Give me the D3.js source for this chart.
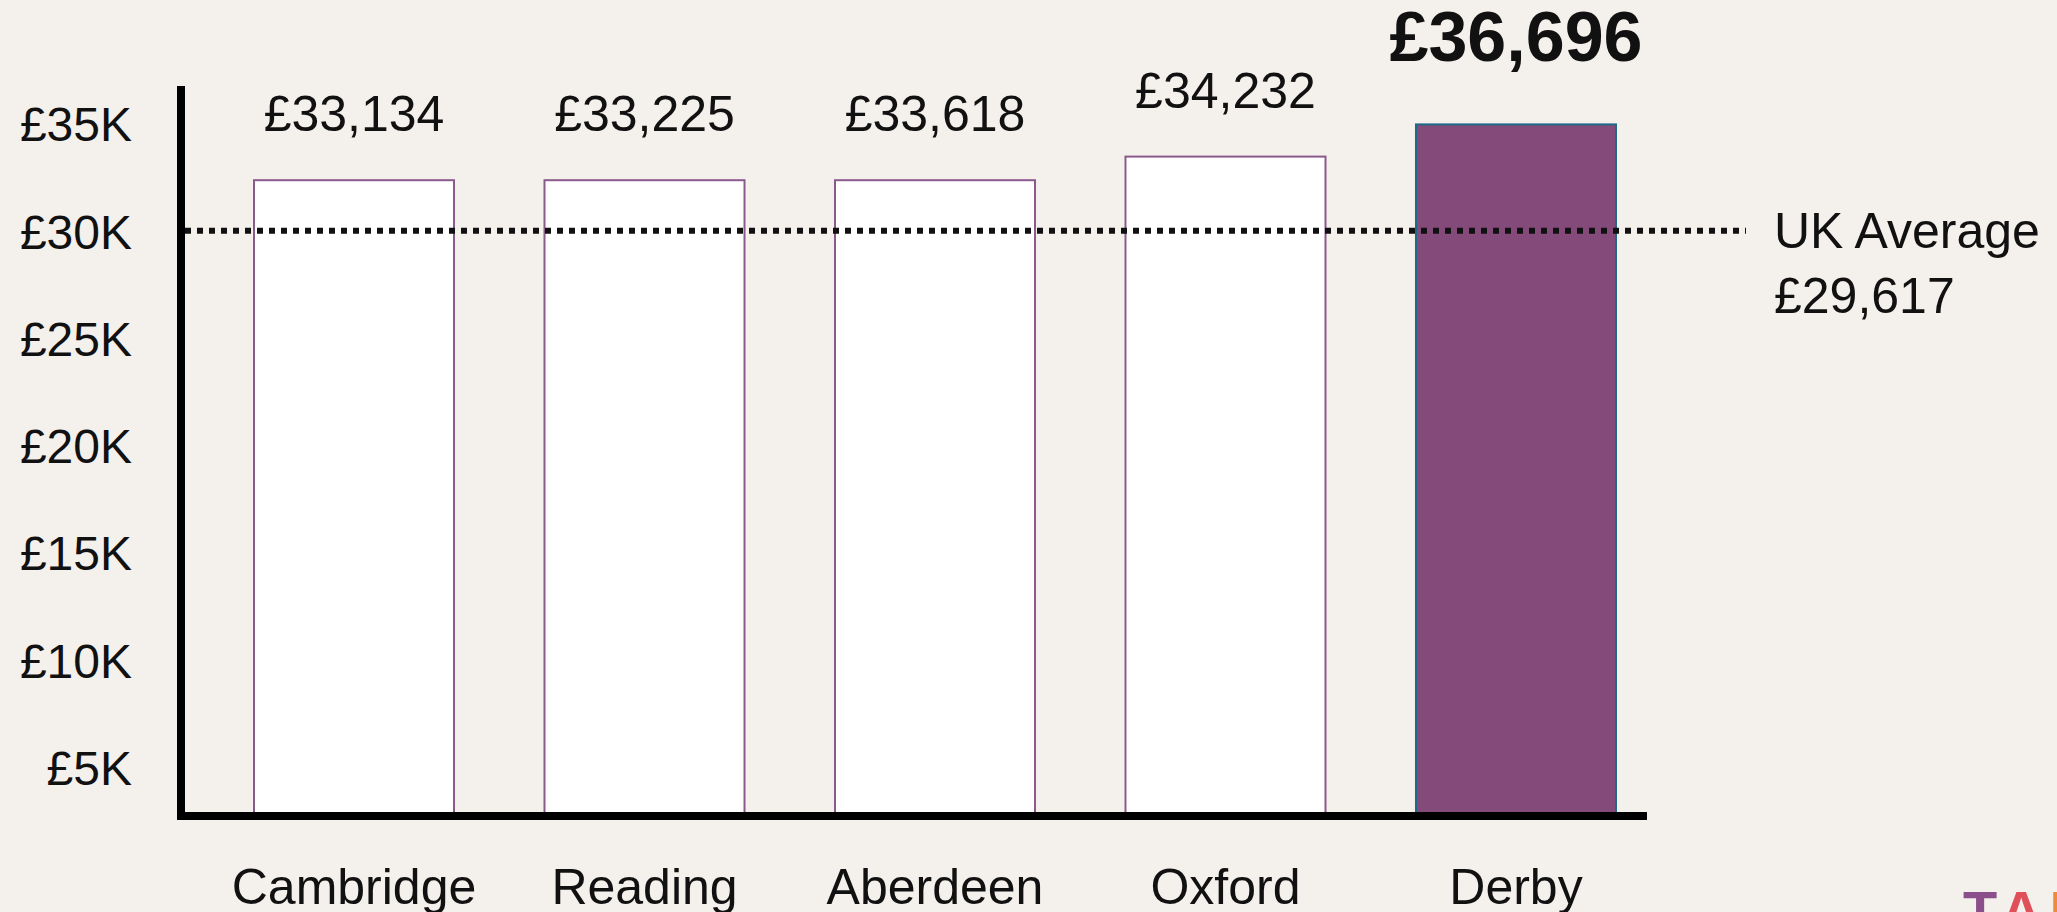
<!DOCTYPE html>
<html>
<head>
<meta charset="utf-8">
<script src="https://cdn.jsdelivr.net/npm/d3@7"></script>
<style>
  html, body { margin: 0; padding: 0; background: #F4F0EC; }
  svg { display: block; }
</style>
</head>
<body>
<svg id="chart" width="2057" height="912"></svg>
<script>
// ---- data ----
const categories   = ["Cambridge", "Reading", "Aberdeen", "Oxford", "Derby"];
const salaryLabels = [33134, 33225, 33618, 34232, 36696];   // printed value labels
const barLevels    = [32400, 32400, 32400, 33500, 35000];   // bar tops as drawn, read against the £ axis
const highlighted  = ["Derby"];
const yTickValues  = [5000, 10000, 15000, 20000, 25000, 30000, 35000];
const ukAverageLabel = 29617;   // printed average
const ukAverageLevel = 30000;   // level at which the dotted line is drawn
const ukAverageText  = "UK Average";
const logoLetters    = ["T", "A", "L"];

// ---- layout ----
const W = 2057, H = 912;
const FONT = "'Liberation Sans', Arial, sans-serif";
const axisX = 181, axisY = 816;

const svg = d3.select("#chart");
svg.append("rect").attr("width", W).attr("height", H).attr("fill", "#F4F0EC");

const x = d3.scaleBand()
  .domain(categories)
  .range([253, 1617])
  .paddingInner(0.3046)
  .paddingOuter(0);

const y = d3.scaleLinear()
  .domain([0, 35000])
  .range([874.7, 123.4]);

const data = categories.map((c, i) => ({
  cat: c, level: barLevels[i], label: salaryLabels[i], hl: highlighted.includes(c)
}));

// bars
svg.append("g").selectAll("rect")
  .data(data)
  .join("rect")
  .attr("x", d => x(d.cat) + 1)
  .attr("width", x.bandwidth() - 2)
  .attr("y", d => y(d.level) + 1)
  .attr("height", d => axisY - y(d.level) - 1)
  .attr("fill", d => d.hl ? "#844B7A" : "#FFFFFF")
  .attr("stroke", d => d.hl ? "#1F6888" : "#8A5A8C")
  .attr("stroke-width", 2);

// value labels
const fmt = d3.format(",");
svg.append("g").selectAll("text")
  .data(data)
  .join("text")
  .attr("x", d => x(d.cat) + x.bandwidth() / 2)
  .attr("y", d => y(d.level) - (d.hl ? 62 : 48))
  .attr("text-anchor", "middle")
  .attr("font-family", FONT)
  .attr("font-size", d => d.hl ? 70 : 50)
  .attr("font-weight", d => d.hl ? "bold" : "normal")
  .attr("fill", "#111")
  .text(d => "£" + fmt(d.label));

// y-axis tick labels
const yAxis = d3.axisLeft(y)
  .tickValues(yTickValues)
  .tickSize(0)
  .tickPadding(49)
  .tickFormat(d => "£" + (d / 1000) + "K");
const gy = svg.append("g").attr("transform", `translate(${axisX},0)`).call(yAxis);
gy.select(".domain").remove();
gy.selectAll("text")
  .attr("font-family", FONT)
  .attr("font-size", 48)
  .attr("fill", "#111")
  .attr("dy", "0.36em");

// x-axis category labels
const xAxis = d3.axisBottom(x).tickSize(0).tickPadding(52.5);
const gx = svg.append("g").attr("transform", `translate(0,${axisY})`).call(xAxis);
gx.select(".domain").remove();
gx.selectAll("text")
  .attr("font-family", FONT)
  .attr("font-size", 50)
  .attr("fill", "#111");

// UK average dotted line
const avgY = y(ukAverageLevel);
svg.append("line")
  .attr("x1", axisX + 4).attr("x2", 1746)
  .attr("y1", avgY).attr("y2", avgY)
  .attr("stroke", "#111")
  .attr("stroke-width", 6)
  .attr("stroke-dasharray", "6,6");

const avgText = svg.append("text")
  .attr("font-family", FONT)
  .attr("font-size", 50)
  .attr("fill", "#111");
avgText.append("tspan").attr("x", 1774).attr("y", avgY + 17).text(ukAverageText);
avgText.append("tspan").attr("x", 1774).attr("y", avgY + 82).text("£" + fmt(ukAverageLabel));

// axis lines
svg.append("line")
  .attr("x1", axisX).attr("x2", axisX)
  .attr("y1", 86).attr("y2", axisY + 4)
  .attr("stroke", "#000").attr("stroke-width", 8);
svg.append("line")
  .attr("x1", axisX - 4).attr("x2", 1647)
  .attr("y1", axisY).attr("y2", axisY)
  .attr("stroke", "#000").attr("stroke-width", 8);

// partial logo in the corner
const logoColors = ["#8B4F8B", "#E0505A", "#F08A3A"];
const logo = svg.append("text")
  .attr("x", 1963).attr("y", 930)
  .attr("font-family", FONT)
  .attr("font-weight", "bold")
  .attr("font-size", 56);
logoLetters.forEach((l, i) => {
  logo.append("tspan").attr("fill", logoColors[i]).attr("dx", i ? 8 : 0).text(l);
});
</script>
</body>
</html>
